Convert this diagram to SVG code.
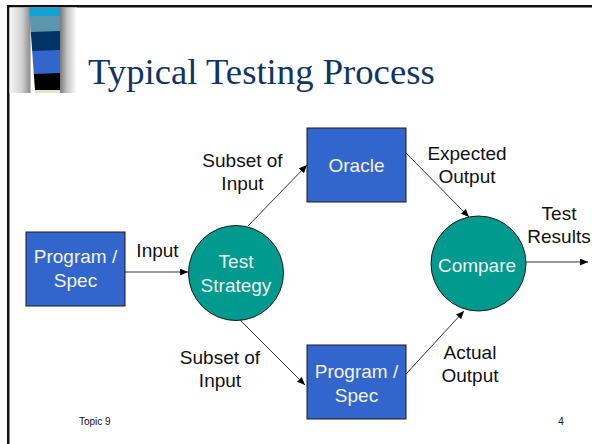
<svg xmlns="http://www.w3.org/2000/svg" width="592" height="444" viewBox="0 0 592 444">
  <style>
    .box { fill: #3366cc; stroke: #1a1a1a; stroke-width: 1; }
    .disc { fill: #009a8e; stroke: #1a1a1a; stroke-width: 1; }
    .inner { font-family: "Liberation Sans", Arial, sans-serif; font-size: 19px; fill: #f2f2f2; text-anchor: middle; }
    .label { font-family: "Liberation Sans", Arial, sans-serif; font-size: 19px; fill: #111; text-anchor: middle; }
    .foot { font-family: "Liberation Sans", Arial, sans-serif; font-size: 10px; fill: #111; }
    .title { font-family: "Liberation Serif", "Times New Roman", serif; font-size: 36.7px; fill: #0f3468; }
    .link { stroke: #333; stroke-width: 1; fill: none; marker-end: url(#arrow); }
  </style>
  <defs>
    <marker id="arrow" markerUnits="userSpaceOnUse" markerWidth="9" markerHeight="7" refX="8" refY="3.5" orient="auto">
      <path d="M0,0 L8,3.5 L0,7 z" fill="#000"/>
    </marker>
    <linearGradient id="shadeL" x1="0" y1="0" x2="1" y2="0">
      <stop offset="0" stop-color="#f6f6f6"/>
      <stop offset="0.6" stop-color="#d0d0d0"/>
      <stop offset="1" stop-color="#8a8a8a"/>
    </linearGradient>
    <linearGradient id="shadeR" x1="0" y1="0" x2="1" y2="0">
      <stop offset="0" stop-color="#6e6e6e"/>
      <stop offset="0.45" stop-color="#c4c4c4"/>
      <stop offset="1" stop-color="#ffffff"/>
    </linearGradient>
  </defs>

  <rect x="0" y="0" width="592" height="444" fill="#fff"/>

  <!-- slide frame -->
  <rect x="7" y="5" width="585" height="2.5" fill="#111"/>
  <rect x="7" y="5" width="2.5" height="439" fill="#111"/>

  <!-- title ornament: shaded bar with colour bands -->
  <g id="ornament">
    <rect x="9.5" y="7.5" width="21" height="85.5" fill="url(#shadeL)"/>
    <rect x="59" y="7.5" width="18" height="85.5" fill="url(#shadeR)"/>
    <polygon points="29,7.5 60,7.5 60,16 29.6,16" fill="#12a2d6"/>
    <polygon points="29.6,16 60,16 60,32 30.8,32" fill="#5e95ae"/>
    <polygon points="30.8,32 60,31 60,51 32.2,51" fill="#003366"/>
    <polygon points="32.2,51 60,50 60,74 33.8,74" fill="#3366cc"/>
    <polygon points="33.8,74 60,73 60,90 35,90" fill="#000"/>
    <polygon points="35,90 60,90 60,93 35.2,93" fill="#e6e4c4"/>
  </g>

  <text class="title" x="88" y="84">Typical Testing Process</text>

  <!-- connectors -->
  <g id="connectors">
    <line class="link" x1="125" y1="272" x2="188" y2="272"/>
    <line class="link" x1="248" y1="226" x2="307" y2="165"/>
    <line class="link" x1="240" y1="320" x2="305" y2="385"/>
    <line class="link" x1="406" y1="153" x2="469" y2="217"/>
    <line class="link" x1="406" y1="374" x2="464" y2="311"/>
    <line class="link" x1="526" y1="262" x2="588" y2="262"/>
  </g>

  <!-- connector labels -->
  <g id="labels">
    <text class="label" x="157.5" y="257">Input</text>
    <text class="label" x="242.5" y="167">Subset of</text>
    <text class="label" x="242.5" y="190">Input</text>
    <text class="label" x="220" y="364">Subset of</text>
    <text class="label" x="220" y="387">Input</text>
    <text class="label" x="467" y="160">Expected</text>
    <text class="label" x="467" y="183">Output</text>
    <text class="label" x="470" y="359">Actual</text>
    <text class="label" x="470" y="382">Output</text>
    <text class="label" x="559" y="220">Test</text>
    <text class="label" x="559" y="243">Results</text>
  </g>

  <!-- nodes -->
  <g id="program-spec-left">
    <rect class="box" x="26" y="232" width="99" height="74"/>
    <text class="inner" x="75.5" y="263">Program /</text>
    <text class="inner" x="75.5" y="287">Spec</text>
  </g>
  <g id="test-strategy">
    <circle class="disc" cx="236" cy="273" r="47.5"/>
    <text class="inner" x="236" y="268">Test</text>
    <text class="inner" x="236" y="292">Strategy</text>
  </g>
  <g id="oracle">
    <rect class="box" x="307" y="128" width="99" height="74"/>
    <text class="inner" x="356.5" y="172">Oracle</text>
  </g>
  <g id="program-spec-bottom">
    <rect class="box" x="307" y="345" width="99" height="74"/>
    <text class="inner" x="356.5" y="378">Program /</text>
    <text class="inner" x="356.5" y="402">Spec</text>
  </g>
  <g id="compare">
    <circle class="disc" cx="478.5" cy="263.5" r="47.5"/>
    <text class="inner" x="477" y="272">Compare</text>
  </g>

  <!-- footer -->
  <text class="foot" x="79" y="425">Topic 9</text>
  <text class="foot" x="561" y="425" text-anchor="middle">4</text>
</svg>
